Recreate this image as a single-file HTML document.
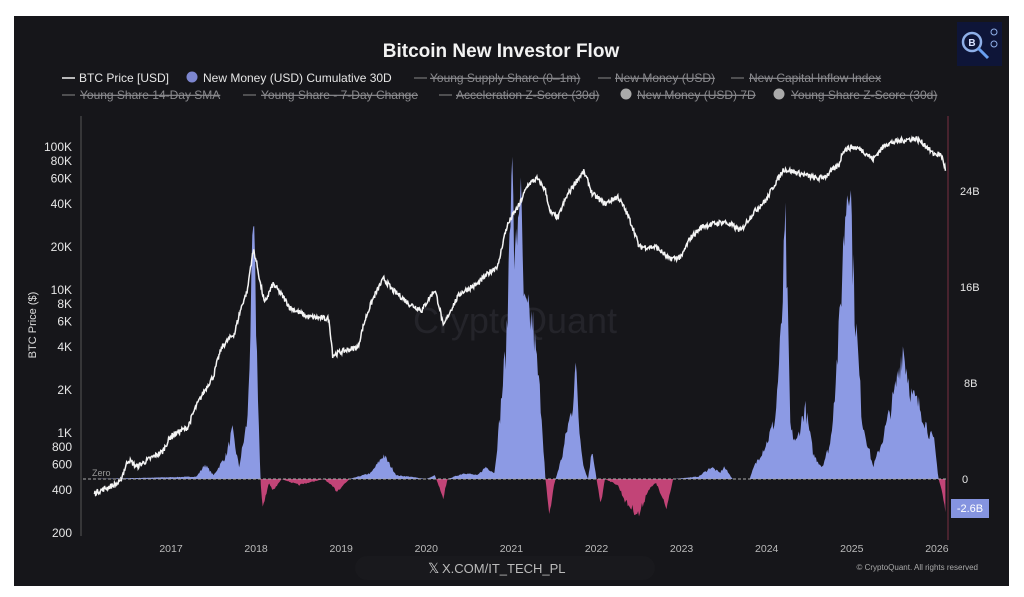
<!DOCTYPE html>
<html><head><meta charset="utf-8"><style>
html,body{margin:0;padding:0;background:#fff;width:1024px;height:597px;overflow:hidden}
svg{display:block}
text{font-family:"Liberation Sans",sans-serif}
</style></head><body>
<svg id="s" width="1024" height="597" viewBox="0 0 1024 597">
<rect x="14" y="16" width="995" height="570" fill="#16161a"/>
<rect x="957" y="22" width="45" height="44" fill="#0e1538"/>
<circle cx="972" cy="42" r="9" fill="none" stroke="#8fb0e8" stroke-width="2.5"/>
<text x="972" y="46" font-size="10" font-weight="bold" fill="#d8e2ff" text-anchor="middle">B</text>
<line x1="978" y1="48" x2="988" y2="58" stroke="#6aa0f0" stroke-width="3"/>
<circle cx="994" cy="32" r="3" fill="none" stroke="#8fb0e8"/><circle cx="994" cy="44" r="3" fill="none" stroke="#8fb0e8"/>
<text x="501" y="57" font-size="19" font-weight="bold" fill="#f2f2f2" text-anchor="middle">Bitcoin New Investor Flow</text>
<g font-size="12" fill="#e6e6e6">
<line x1="62" y1="78" x2="75" y2="78" stroke="#eee" stroke-width="1.5"/><text x="79" y="82">BTC Price [USD]</text>
<circle cx="192" cy="77" r="5.5" fill="#7d86cf"/><text x="203" y="82">New Money (USD) Cumulative 30D</text>
</g>
<g font-size="12" fill="#8a8a8e" text-decoration="line-through">
<line x1="414" y1="78" x2="427" y2="78" stroke="#888"/><text x="430" y="82">Young Supply Share (0–1m)</text>
<line x1="598" y1="78" x2="611" y2="78" stroke="#888"/><text x="615" y="82">New Money (USD)</text>
<line x1="731" y1="78" x2="744" y2="78" stroke="#888"/><text x="749" y="82">New Capital Inflow Index</text>
<line x1="62" y1="95" x2="75" y2="95" stroke="#888"/><text x="80" y="99">Young Share 14-Day SMA</text>
<line x1="243" y1="95" x2="256" y2="95" stroke="#888"/><text x="261" y="99">Young Share - 7-Day Change</text>
<line x1="439" y1="95" x2="452" y2="95" stroke="#888"/><text x="456" y="99">Acceleration Z-Score (30d)</text>
<circle cx="626" cy="94" r="5.5" fill="#aaa"/><text x="637" y="99">New Money (USD) 7D</text>
<circle cx="779" cy="94" r="5.5" fill="#aaa"/><text x="791" y="99">Young Share Z-Score (30d)</text>
</g>
<text x="515" y="333" font-size="36" fill="#24242a" text-anchor="middle">CryptoQuant</text>
<line x1="81" y1="116" x2="81" y2="536" stroke="#555" stroke-width="1"/>
<line x1="948" y1="116" x2="948" y2="540" stroke="#6a2c3c" stroke-width="1.2"/>
<g id="yl" font-size="12" fill="#e6e6e6" text-anchor="end"></g>
<text transform="translate(36,325) rotate(-90)" font-size="11" fill="#ddd" text-anchor="middle">BTC Price ($)</text>
<g font-size="11" fill="#e6e6e6">
<text x="960" y="195">24B</text><text x="960" y="291">16B</text><text x="964" y="387">8B</text><text x="962" y="483">0</text>
</g>
<g id="xl" font-size="10.5" fill="#bbb" text-anchor="middle"></g>
<g id="plot"></g>
<line x1="83" y1="479" x2="946" y2="479" stroke="#aaa" stroke-width="1" stroke-dasharray="3,2"/>
<text x="92" y="476" font-size="9" fill="#999">Zero</text>
<rect x="951" y="499" width="38" height="19" fill="#8594e0"/>
<text x="970" y="512" font-size="11" fill="#fff" text-anchor="middle">-2.6B</text>
<rect x="355" y="556" width="300" height="24" rx="12" fill="#19191d"/>
<text x="428" y="573" font-size="14" fill="#ccc">𝕏</text>
<text x="442" y="573" font-size="13" fill="#bbb">X.COM/IT_TECH_PL</text>
<text x="978" y="570" font-size="8" fill="#aaa" text-anchor="end">© CryptoQuant. All rights reserved</text>
</svg>
<script>
var NS="http://www.w3.org/2000/svg";
function X(t){return 171+(t-2017)*85.1;}
function YP(p){return 433-(Math.log10(p)-3)*143;}
function YB(b){return 479-b*12;}
var yl=document.getElementById("yl");
[[100000,"100K"],[80000,"80K"],[60000,"60K"],[40000,"40K"],[20000,"20K"],[10000,"10K"],[8000,"8K"],[6000,"6K"],[4000,"4K"],[2000,"2K"],[1000,"1K"],[800,"800"],[600,"600"],[400,"400"],[200,"200"]].forEach(function(a){
 var t=document.createElementNS(NS,"text");t.setAttribute("x",72);t.setAttribute("y",YP(a[0])+4);t.textContent=a[1];yl.appendChild(t);});
var xl=document.getElementById("xl");
for(var y=2017;y<=2026;y++){var t=document.createElementNS(NS,"text");t.setAttribute("x",X(y));t.setAttribute("y",552);t.textContent=y;xl.appendChild(t);}
var seed=7;function rnd(){seed=(seed*16807)%2147483647;return seed/2147483647;}
function interp(k,t){for(var i=0;i<k.length-1;i++){if(t<=k[i+1][0]){var f=(t-k[i][0])/(k[i+1][0]-k[i][0]);return k[i][1]+(k[i+1][1]-k[i][1])*f;}}return k[k.length-1][1];}
var P=[[2016.1,380],[2016.4,450],[2016.5,650],[2016.6,580],[2016.9,740],[2017.0,950],[2017.2,1100],[2017.4,2000],[2017.5,2500],[2017.6,4000],[2017.75,5000],[2017.9,10000],[2017.97,19000],[2018.05,11000],[2018.1,8000],[2018.2,11000],[2018.4,7500],[2018.6,6500],[2018.85,6300],[2018.9,3500],[2019.0,3700],[2019.2,4000],[2019.35,8000],[2019.5,12000],[2019.6,10000],[2019.8,8000],[2019.95,7200],[2020.1,10000],[2020.2,5500],[2020.4,9500],[2020.6,11000],[2020.85,15000],[2020.95,28000],[2021.1,40000],[2021.2,55000],[2021.3,60000],[2021.4,50000],[2021.45,35000],[2021.55,32000],[2021.65,45000],[2021.8,62000],[2021.85,67000],[2021.95,47000],[2022.1,40000],[2022.25,45000],[2022.4,30000],[2022.5,20000],[2022.7,20000],[2022.85,16500],[2023.0,17000],[2023.1,23000],[2023.25,28000],[2023.5,30000],[2023.7,26000],[2023.85,35000],[2024.0,43000],[2024.15,62000],[2024.2,70000],[2024.4,65000],[2024.6,60000],[2024.7,63000],[2024.85,75000],[2024.9,95000],[2025.0,100000],[2025.1,97000],[2025.25,82000],[2025.4,105000],[2025.55,110000],[2025.75,115000],[2025.85,105000],[2025.95,90000],[2026.05,88000],[2026.1,70000]];
var M=[[2016.1,0],[2017.3,0.2],[2017.4,1.2],[2017.5,0.3],[2017.65,2],[2017.72,4],[2017.8,1],[2017.9,5],[2017.97,21],[2018.05,0],[2018.08,-2.5],[2018.15,-0.3],[2018.2,-1],[2018.3,0],[2018.5,-0.5],[2018.8,0],[2018.95,-1],[2019.1,0],[2019.35,0.5],[2019.5,2],[2019.65,0.3],[2019.8,0.2],[2020.0,0],[2020.1,0.3],[2020.2,-1.5],[2020.25,0],[2020.45,0.5],[2020.6,0.3],[2020.7,1],[2020.8,0.5],[2020.85,4],[2020.95,12],[2021.0,28],[2021.04,17],[2021.1,25],[2021.15,14],[2021.25,13],[2021.35,6],[2021.4,0],[2021.45,-3],[2021.5,-0.5],[2021.6,2],[2021.65,4],[2021.72,6],[2021.75,10],[2021.8,4],[2021.85,1],[2021.9,0],[2021.95,2.5],[2022.0,0],[2022.05,-2],[2022.1,0],[2022.25,-0.5],[2022.35,-2],[2022.5,-3],[2022.6,-1],[2022.7,-0.3],[2022.82,-2.5],[2022.9,0],[2023.2,0.2],[2023.35,1],[2023.45,0.5],[2023.5,1],[2023.6,0],[2023.8,0],[2023.85,1],[2024.0,3],[2024.1,5],[2024.17,12],[2024.22,21],[2024.28,4],[2024.35,3],[2024.45,6],[2024.55,2],[2024.65,1],[2024.75,3],[2024.85,12],[2024.92,22],[2024.97,27],[2025.03,15],[2025.12,5],[2025.25,1],[2025.35,3],[2025.5,7],[2025.6,11],[2025.7,7],[2025.8,6],[2025.9,4],[2025.97,3],[2026.02,0],[2026.06,-1],[2026.1,-2.6]];
var plot=document.getElementById("plot");
var i,t;
var n=900;
var area="M"+X(2016.1)+","+YB(0);
for(i=0;i<=n;i++){t=2016.1+(2026.1-2016.1)*i/n;var b=interp(M,t);b=b*(0.85+0.3*rnd());area+=" L"+X(t).toFixed(1)+","+YB(b).toFixed(1);}
area+=" L"+X(2026.1)+","+YB(0)+" Z";
var defs=document.createElementNS(NS,"defs");
defs.innerHTML='<clipPath id="cp"><rect x="0" y="0" width="1024" height="479"/></clipPath><clipPath id="cn"><rect x="0" y="479" width="1024" height="100"/></clipPath>';
plot.appendChild(defs);
function mk(d,fill,clip){var p=document.createElementNS(NS,"path");p.setAttribute("d",d);p.setAttribute("fill",fill);p.setAttribute("clip-path","url(#"+clip+")");plot.appendChild(p);}
mk(area,"#8c9ae4","cp");mk(area,"#c24477","cn");
var d="";
for(i=0;i<=1400;i++){t=2016.1+(2026.1-2016.1)*i/1400;var p=interp(P,t)*(1+(rnd()-0.5)*0.09);d+=(i?" L":"M")+X(t).toFixed(1)+","+YP(p).toFixed(1);}
var l=document.createElementNS(NS,"path");l.setAttribute("d",d);l.setAttribute("fill","none");l.setAttribute("stroke","#f4f4f4");l.setAttribute("stroke-width","1.5");plot.appendChild(l);
</script>
</body></html>
